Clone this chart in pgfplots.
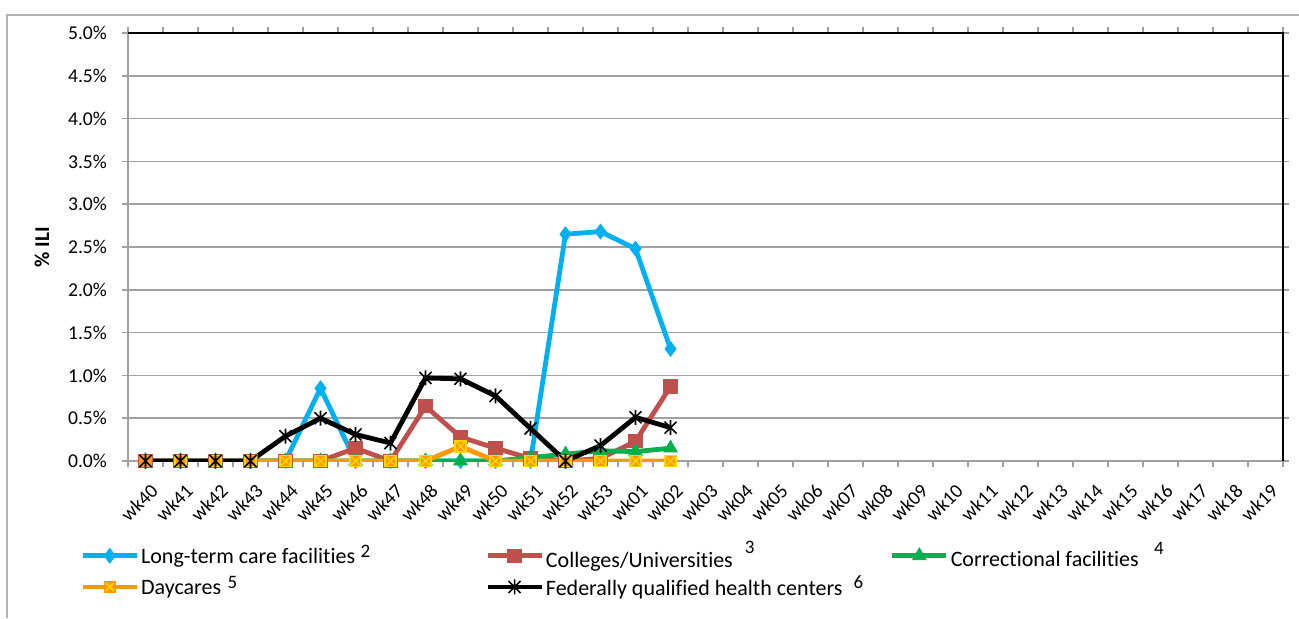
\documentclass[border=0pt]{standalone}
\usepackage{pgfplots}
\pgfplotsset{compat=1.18}
\usepackage{fontspec}
\setmainfont{Carlito}[Ligatures=NoCommon]
\definecolor{cblue}{HTML}{00B0F0}
\definecolor{cred}{HTML}{C0504D}
\definecolor{cgreen}{HTML}{00B050}
\definecolor{corange}{HTML}{FF9900}
\definecolor{cyel}{HTML}{FFD700}
\definecolor{grid}{HTML}{A0A0A0}
\pgfdeclareplotmark{sqx}{%
  \pgfpathrectangle{\pgfpoint{-\pgfplotmarksize}{-\pgfplotmarksize}}{\pgfpoint{2\pgfplotmarksize}{2\pgfplotmarksize}}%
  \pgfusepathqfillstroke
  \pgfsetstrokecolor{cyel}\pgfsetlinewidth{0.7pt}%
  \pgfpathmoveto{\pgfpoint{-0.75\pgfplotmarksize}{-0.75\pgfplotmarksize}}%
  \pgfpathlineto{\pgfpoint{0.75\pgfplotmarksize}{0.75\pgfplotmarksize}}%
  \pgfpathmoveto{\pgfpoint{-0.75\pgfplotmarksize}{0.75\pgfplotmarksize}}%
  \pgfpathlineto{\pgfpoint{0.75\pgfplotmarksize}{-0.75\pgfplotmarksize}}%
  \pgfusepathqstroke}
\pgfdeclareplotmark{xstar}{%
  \pgfpathmoveto{\pgfpoint{-\pgfplotmarksize}{-\pgfplotmarksize}}%
  \pgfpathlineto{\pgfpoint{\pgfplotmarksize}{\pgfplotmarksize}}%
  \pgfpathmoveto{\pgfpoint{-\pgfplotmarksize}{\pgfplotmarksize}}%
  \pgfpathlineto{\pgfpoint{\pgfplotmarksize}{-\pgfplotmarksize}}%
  \pgfpathmoveto{\pgfpoint{0pt}{-1.25\pgfplotmarksize}}%
  \pgfpathlineto{\pgfpoint{0pt}{1.25\pgfplotmarksize}}%
  \pgfusepathqstroke}
\begin{document}
\begin{tikzpicture}
\useasboundingbox (0,0) rectangle (649.5pt,309pt);
\draw[gray!60, line width=0.8pt] (3.5pt,0) -- (3.5pt,301.5pt) -- (649.5pt,301.5pt);
\begin{axis}[
  at={(64pt,78.5pt)}, anchor=south west,
  scale only axis, width=577.5pt, height=214pt,
  xmin=-0.5, xmax=32.5, ymin=0, ymax=5,
  axis line style={draw=grid, line width=0.8pt},
  tick align=outside, major tick length=3pt,
  tick style={draw=grid, line width=0.8pt},
  xtick={-0.5,0.5,...,32.5}, xticklabels={},
  extra x ticks={0,1,...,32},
  extra x tick labels={wk40,wk41,wk42,wk43,wk44,wk45,wk46,wk47,wk48,wk49,wk50,wk51,wk52,wk53,wk01,wk02,wk03,wk04,wk05,wk06,wk07,wk08,wk09,wk10,wk11,wk12,wk13,wk14,wk15,wk16,wk17,wk18,wk19},
  extra x tick style={major tick length=0pt, grid=none,
    tick label style={xshift=2pt, yshift=-9pt, rotate=45, anchor=north east, inner sep=1pt, font=\fontsize{9.8}{11}\selectfont}},
  ytick={0,0.5,...,5},
  yticklabels={0.0\%,0.5\%,1.0\%,1.5\%,2.0\%,2.5\%,3.0\%,3.5\%,4.0\%,4.5\%,5.0\%},
  yticklabel style={font=\fontsize{9.8}{11}\selectfont, xshift=-4pt},
  ymajorgrids, grid style={draw=grid, line width=0.8pt},
  ylabel={\textbf{\% ILI}},
  ylabel style={font=\fontsize{10.5}{12}\selectfont, at={(axis description cs:-0.0745,0.5)}, anchor=center},
  legend columns=3,
  legend style={draw=none, fill=none, at={(axis description cs:-0.0416,-0.182)}, anchor=north west,
    font=\fontsize{11}{13}\selectfont, column sep=0pt, row sep=0.8pt, inner sep=0pt,
    nodes={inner sep=1pt}},
  legend cell align=left,
  legend image code/.code={\draw[mark repeat=2, mark phase=2] plot coordinates {(0pt,0pt)(13.5pt,0pt)(27pt,0pt)};},
  every axis plot/.append style={line width=2.4pt},
  after end axis/.code={\draw[black, line width=1pt] (rel axis cs:0,1) -- (rel axis cs:1,1) -- (rel axis cs:1,0);},
]
\addplot[cblue, mark=diamond*, mark size=3.6pt, mark options={line width=0.5pt}] coordinates {
 (0,0)(1,0)(2,0)(3,0)(4,0)(5,0.85)(6,0)(7,0)(8,0)(9,0)(10,0)(11,0)(12,2.65)(13,2.68)(14,2.48)(15,1.31)};
\addlegendentry{\makebox[171pt][l]{Long-term care facilities\hspace{0.25em}\raisebox{0.6ex}{\fontsize{9.5}{11}\selectfont 2}}}
\addplot[cred, mark=square*, mark size=3.3pt, mark options={line width=0.5pt}] coordinates {
 (0,0)(1,0)(2,0)(3,0)(4,0)(5,0)(6,0.15)(7,0)(8,0.64)(9,0.28)(10,0.15)(11,0.03)(12,0)(13,0.03)(14,0.23)(15,0.87)};
\addlegendentry{\makebox[171pt][l]{Colleges/Universities\hspace{0.55em}\raisebox{1.3ex}{\fontsize{9.5}{11}\selectfont 3}}}
\addplot[cgreen, mark=triangle*, mark size=3.8pt, mark options={line width=0.5pt}] coordinates {
 (0,0)(1,0)(2,0)(3,0)(4,0)(5,0)(6,0)(7,0)(8,0)(9,0)(10,0)(11,0.04)(12,0.08)(13,0.12)(14,0.11)(15,0.15)};
\addlegendentry{Correctional facilities\hspace{0.7em}\raisebox{1.2ex}{\fontsize{9.5}{11}\selectfont 4}}
\addplot[corange, mark=sqx, mark size=2.8pt, mark options={line width=0.5pt, fill=corange}] coordinates {
 (0,0)(1,0)(2,0)(3,0)(4,0)(5,0)(6,0)(7,0)(8,0)(9,0.17)(10,0)(11,0)(12,0)(13,0)(14,0)(15,0)};
\addlegendentry{\makebox[171pt][l]{Daycares\hspace{0.3em}\raisebox{0.6ex}{\fontsize{9.5}{11}\selectfont 5}}}
\addplot[black, mark=xstar, mark size=3pt, mark options={line width=0.8pt}] coordinates {
 (0,0)(1,0)(2,0)(3,0)(4,0.29)(5,0.50)(6,0.31)(7,0.21)(8,0.97)(9,0.96)(10,0.76)(11,0.38)(12,0)(13,0.18)(14,0.51)(15,0.39)};
\addlegendentry{Federally qualified health centers\hspace{0.5em}\raisebox{0.6ex}{\fontsize{9.5}{11}\selectfont 6}}
\end{axis}
\end{tikzpicture}
\end{document}
